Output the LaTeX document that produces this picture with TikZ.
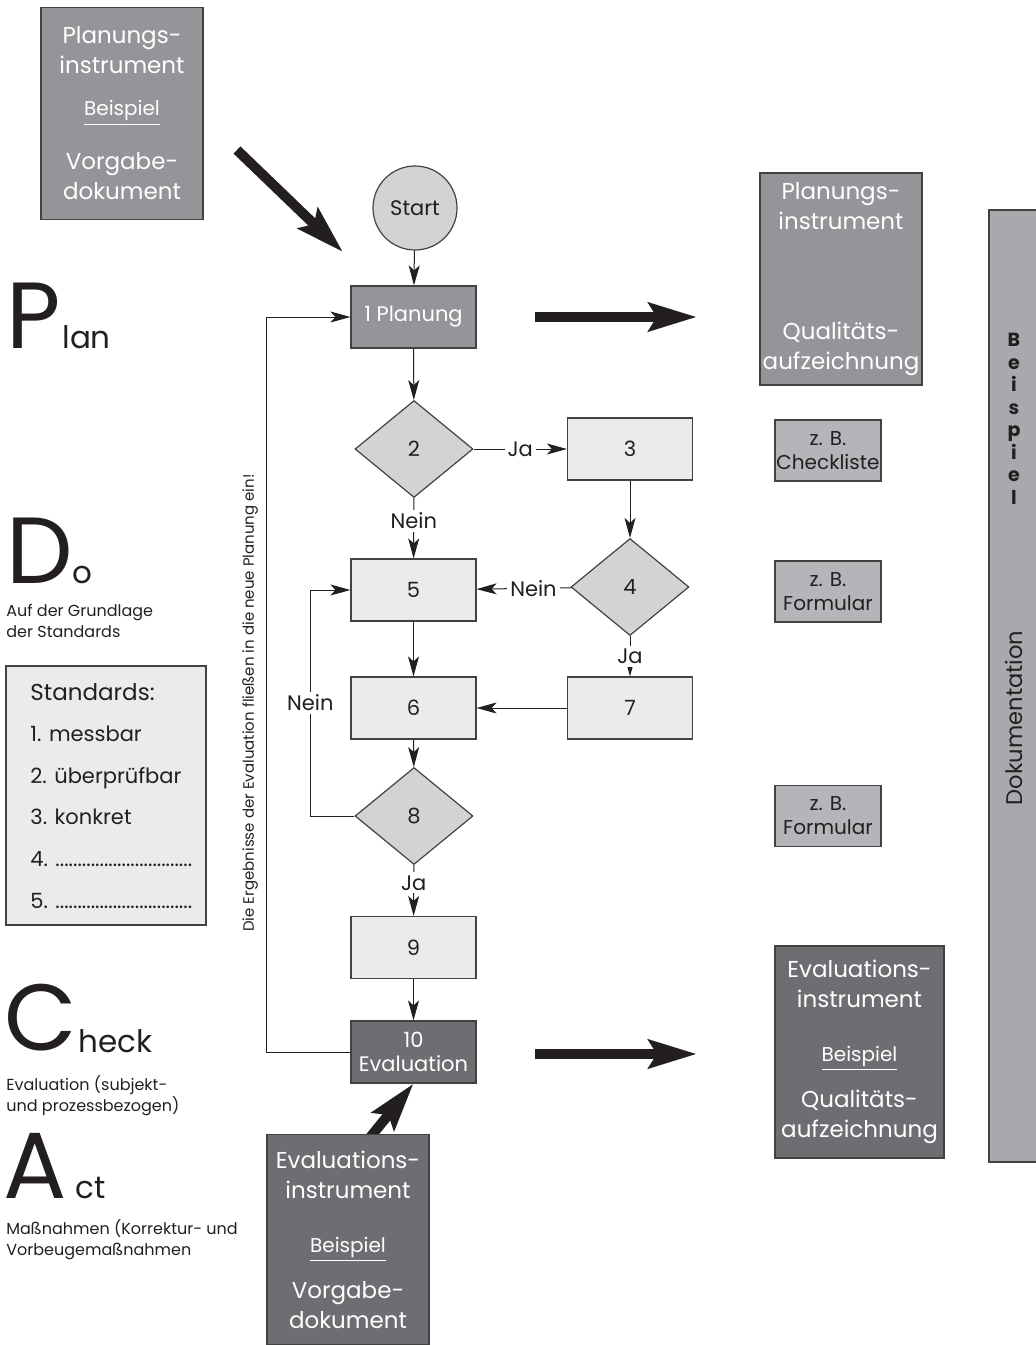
\documentclass[tikz,border=0pt]{standalone}
\usepackage{fontspec}
\setmainfont{Poppins}
\usepackage{tikz}
\usetikzlibrary{%
arrows.meta,%
shapes.geometric,%
positioning}
\definecolor{dunkelgrau}{HTML}{6D6E71}
\definecolor{mittelgrau}{HTML}{939598}
\definecolor{balkengrau}{HTML}{A7A9AC}
\definecolor{kleingrau}{HTML}{B3B5B8}
\definecolor{rautegrau}{HTML}{D1D3D4}
\definecolor{hellgrau}{HTML}{EBEBEC}
\definecolor{textgrau}{HTML}{231F20}
\newcommand{\punktlinie}{...............................}

\begin{document}
\begin{tikzpicture}[x=0.5pt,y=-0.5pt,
  box/.style={draw=textgrau!85,line width=0.6pt,inner sep=0pt,align=center},
  flowbox/.style={box,fill=hellgrau,text=textgrau,minimum width=62.5pt,minimum height=31pt,font=\fontsize{10.5}{12}\selectfont},
  darkflow/.style={flowbox,fill=mittelgrau,text=white},
  decision/.style={box,diamond,fill=rautegrau,text=textgrau,minimum width=59pt,minimum height=48.5pt,font=\fontsize{10.5}{12}\selectfont},
  docbox/.style={box,text=white,minimum width=81pt,minimum height=106pt,font=\fontsize{11.5}{15}\selectfont},
  tipbox/.style={box,fill=kleingrau,text=textgrau,minimum width=53pt,minimum height=30.5pt,font=\fontsize{10}{12}\selectfont},
  flowarrow/.style={-{Stealth[length=10pt,width=5.5pt,inset=2.5pt]},line width=0.5pt,draw=textgrau},
  bigarrow/.style={-{Stealth[length=24pt,width=14pt,inset=4pt]},line width=5pt,draw=textgrau},
  answer/.style={fill=white,inner sep=1.5pt,text=textgrau,font=\fontsize{10.5}{12}\selectfont},
  bigletter/.style={anchor=base west,inner sep=0pt,text depth=0pt,text height=33pt,text=textgrau,font=\fontsize{47}{50}\selectfont},
  restword/.style={anchor=base west,inner sep=0pt,text depth=0pt,text=textgrau,font=\fontsize{15.5}{18}\selectfont},
  note/.style={anchor=north west,inner sep=0pt,align=left,text=textgrau,font=\fontsize{8}{10.5}\selectfont}
]
\useasboundingbox (0,0) rectangle (1035,1345);

\node (pvorgabe) [docbox,fill=mittelgrau] at (122,113.5)
  {Planungs-\\instrument\\[6pt]{\fontsize{10}{12}\selectfont\underline{Beispiel}}\\[12pt]Vorgabe-\\dokument};
\coordinate (pfeilA1) at (237,150);
\coordinate (pfeilA2) at (343,252);
\draw[bigarrow] (pfeilA1) -- (pfeilA2);

\node (start) [box,circle,fill=rautegrau,text=textgrau,minimum size=42pt,font=\fontsize{10.5}{12}\selectfont] at (415,208) {Start};
\node (n1) [darkflow] at (413.5,317) {1 Planung};
\node (n2) [decision] at (414,449) {2};
\node (n3) [flowbox] at (630,449) {3};
\node (n4) [decision] at (630,587) {4};
\node (n5) [flowbox] at (413.5,590) {5};
\node (n6) [flowbox] at (413.5,708) {6};
\node (n7) [flowbox] at (630,708) {7};
\node (n8) [decision] at (414,816) {8};
\node (n9) [flowbox] at (413.5,947.5) {9};
\node (n10) [darkflow,fill=dunkelgrau,font=\fontsize{10.5}{12}\selectfont] at (413.5,1052) {10\\Evaluation};

\draw[flowarrow] (start) -- (n1);
\draw[flowarrow] (n1) -- (n2);
\draw[flowarrow] (n2) -- node[answer] {Ja} (n3);
\draw[flowarrow] (n2) -- node[answer,pos=0.38] {Nein} (n5);
\draw[flowarrow] (n3) -- (n4);
\draw[flowarrow] (n4) -- node[answer,pos=0.4] {Nein} (n5);
\draw[flowarrow] (n4) -- node[answer] {Ja} (n7);
\draw[flowarrow] (n5) -- (n6);
\draw[flowarrow] (n7) -- (n6);
\draw[flowarrow] (n6) -- (n8);
\draw[flowarrow] (n8.west) -- ++(-44,0) |- node[answer,pos=0.25] {Nein} (n5.west);
\draw[flowarrow] (n8) -- node[answer,pos=0.35] {Ja} (n9);
\draw[flowarrow] (n9) -- (n10);
\draw[flowarrow] (n10.west) -- ++(-84,0) |- (n1.west);
\node (hinweis) [rotate=90,text=textgrau,font=\fontsize{7.5}{9}\selectfont] at (250,703)
  {Die Ergebnisse der Evaluation fließen in die neue Planung ein!};

\coordinate (pfeilB1) at (535,317);
\coordinate (pfeilB2) at (697,317);
\draw[bigarrow] (pfeilB1) -- (pfeilB2);
\coordinate (pfeilC1) at (535,1054);
\coordinate (pfeilC2) at (697,1054);
\draw[bigarrow] (pfeilC1) -- (pfeilC2);
\coordinate (pfeilD1) at (368,1140);
\draw[bigarrow] (pfeilD1) -- (n10.south);

\node (pqual) [docbox,fill=mittelgrau] at (841,279)
  {Planungs-\\instrument\\[40pt]Qualitäts-\\aufzeichnung};
\node (tip1) [tipbox] at (828,450.5) {z. B.\\Checkliste};
\node (tip2) [tipbox] at (828,591.5) {z. B.\\Formular};
\node (tip3) [tipbox] at (828,816) {z. B.\\Formular};
\node (equal) [docbox,fill=dunkelgrau,minimum width=84.5pt] at (859.5,1052)
  {Evaluations-\\instrument\\[12pt]{\fontsize{10}{12}\selectfont\underline{Beispiel}}\\[8pt]Qualitäts-\\aufzeichnung};
\node (evorgabe) [docbox,fill=dunkelgrau,minimum height=105pt] at (348,1239.5)
  {Evaluations-\\instrument\\[12pt]{\fontsize{10}{12}\selectfont\underline{Beispiel}}\\[8pt]Vorgabe-\\dokument};

\node (doku) [box,fill=balkengrau,minimum width=25pt,minimum height=476pt] at (1014,686) {};
\node (dokutext) [rotate=90,text=textgrau,font=\fontsize{11.3}{13}\selectfont] at (1014,718) {Dokumentation};
\foreach \ch [count=\i] in {B,e,i,s,p,i,e,l}
  \node (bsp\i) [anchor=base,inner sep=0pt,text=textgrau,font=\bfseries\fontsize{9.5}{10}\selectfont] at (1014,324+22.5*\i) {\ch};

\node (P) [bigletter] at (6,348) {P};
\node (lan) [restword] at (62,348) {lan};
\node (D) [bigletter] at (6,583) {D};
\node (o) [restword] at (72,583) {o};
\node (grundlage) [note] at (6,604) {Auf der Grundlage\\der Standards};
\node (standards) [box,fill=hellgrau,minimum width=100pt,minimum height=129.5pt] at (106,795.5) {};
\node (stitel) [anchor=base west,inner sep=0pt,text=textgrau,font=\fontsize{11.5}{13}\selectfont] at (30,700) {Standards:};
\foreach \eintrag [count=\i] in {{1. messbar},{2. überprüfbar},{3. konkret},{4. \punktlinie},{5. \punktlinie}}
  \node (s\i) [anchor=base west,inner sep=0pt,text=textgrau,font=\fontsize{10.5}{12}\selectfont] at (30,700+41.6*\i) {\eintrag};
\node (C) [bigletter] at (4,1050) {C};
\node (heck) [restword] at (78,1052) {heck};
\node (subjekt) [note] at (6,1075) {Evaluation (subjekt-\\und prozessbezogen)};
\node (A) [bigletter] at (3,1198) {A};
\node (ct) [restword] at (75,1198) {ct};
\node (massnahmen) [note] at (6,1219) {Maßnahmen (Korrektur- und\\Vorbeugemaßnahmen};
\end{tikzpicture}
\end{document}
